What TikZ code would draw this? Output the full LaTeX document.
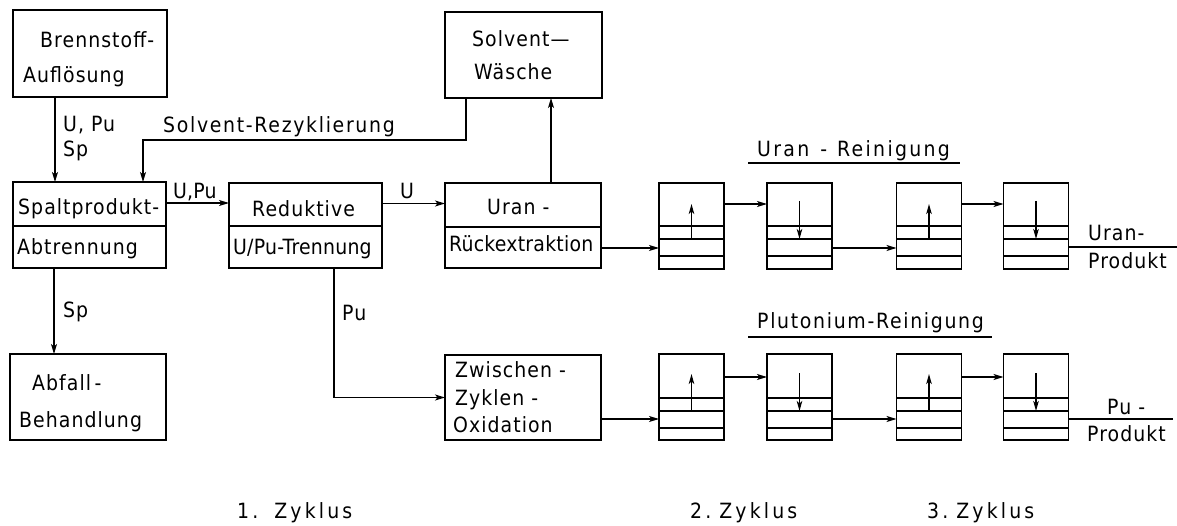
\documentclass[tikz,border=0pt]{standalone}
\usepackage{fontspec}
\setmainfont{DejaVu Sans}[LetterSpace=5, FakeStretch=0.9]
\newfontfamily\fnarrow{DejaVu Sans}[LetterSpace=1, FakeStretch=0.9]
\newfontfamily\fwide{DejaVu Sans}[LetterSpace=8, FakeStretch=0.9]
\newfontfamily\fwider{DejaVu Sans}[LetterSpace=11, FakeStretch=0.9]
\newfontfamily\fwidest{DejaVu Sans}[LetterSpace=15, FakeStretch=0.9]
\usetikzlibrary{arrows.meta,calc}
\begin{document}
\begin{tikzpicture}[x=1pt,y=-1pt,
  box/.style={draw, line width=1.3pt, inner sep=0pt, outer sep=0pt},
  stg/.style={draw, line width=1.3pt, inner sep=0pt, outer sep=0pt, minimum width=65pt, minimum height=86pt},
  arr/.style={line width=1.2pt, -{Stealth[length=10pt,width=6pt,inset=2.5pt]}},
  iarr/.style={line width=1.2pt, -{Stealth[length=10pt,width=5.5pt,inset=2.5pt]}},
  ln/.style={line width=1.2pt},
  txt/.style={anchor=base west, inner sep=0pt, font=\fontsize{21}{25}\selectfont},
  ntxt/.style={txt, font=\fnarrow\fontsize{21}{25}\selectfont},
  wtxt/.style={txt, font=\fwide\fontsize{21}{25}\selectfont},
  wwtxt/.style={txt, font=\fwider\fontsize{21}{25}\selectfont},
  ztxt/.style={txt, font=\fwidest\fontsize{21}{25}\selectfont}]
\useasboundingbox (0,0) rectangle (1177,526);
\fill[white] (0,0) rectangle (1177,526);

% main boxes
\node[box, minimum width=154pt, minimum height=87pt] (brenn) at (90,53.5) {};
\node[box, minimum width=157pt, minimum height=86pt] (solv) at (523.5,55) {};
\node[box, minimum width=153pt, minimum height=86pt] (spalt) at (89.5,225) {};
\node[box, minimum width=153pt, minimum height=85pt] (redu) at (305.5,225.5) {};
\node[box, minimum width=156pt, minimum height=85pt] (uran) at (523,225.5) {};
\node[box, minimum width=156pt, minimum height=86pt] (abfall) at (88,397) {};
\node[box, minimum width=156pt, minimum height=85pt] (zw) at (523,397.5) {};

% dividers
\draw[ln] (spalt.west |- 0,226) -- (spalt.east |- 0,226);
\draw[ln] (redu.west |- 0,226) -- (redu.east |- 0,226);
\draw[ln] (uran.west |- 0,227) -- (uran.east |- 0,227);

% stage boxes
\foreach \n/\x in {1/691.5,2/799.5,3/929,4/1036}{
  \node[stg] (u\n) at (\x,226) {};
  \node[stg] (p\n) at (\x,397) {};
}
\foreach \n in {1,2,3,4}{
  \foreach \o in {43,56,73}{
    \draw[ln] ([yshift=-\o pt]u\n.north west) -- ([yshift=-\o pt]u\n.north east);
  }
  \foreach \o in {44,57,74}{
    \draw[ln] ([yshift=-\o pt]p\n.north west) -- ([yshift=-\o pt]p\n.north east);
  }
}
% inner arrows
\foreach \n in {1,3}{
  \draw[iarr] ([yshift=-56pt]u\n.north) -- ([yshift=-21pt]u\n.north);
  \draw[iarr] ([yshift=-57pt]p\n.north) -- ([yshift=-20pt]p\n.north);
}
\foreach \n in {2,4}{
  \draw[iarr] ([yshift=-18pt]u\n.north) -- ([yshift=-56pt]u\n.north);
  \draw[iarr] ([yshift=-19pt]p\n.north) -- ([yshift=-57pt]p\n.north);
}

% main connectors
\draw[arr] ([xshift=-35pt]brenn.south) -- ([xshift=-35pt]brenn.south |- spalt.north);
\draw[arr] ([xshift=-35.5pt]spalt.south) -- ([xshift=-35.5pt]spalt.south |- abfall.north);
\draw[arr] ([yshift=22pt]spalt.east) -- ([yshift=22pt]spalt.east -| redu.west);
\draw[arr] ([yshift=22pt]redu.east) -- ([yshift=22pt]redu.east -| uran.west);
\draw[arr] ([xshift=28pt]uran.north) -- ([xshift=28pt]uran.north |- solv.south);
\coordinate (rz) at (143,140);
\draw[arr] ([xshift=-57.5pt]solv.south) |- (rz) -- (rz |- spalt.north);
\draw[arr] ([xshift=28.5pt]redu.south) |- (zw.west);

% stage connectors upper
\draw[arr] ([yshift=-22.5pt]uran.east) -- ([yshift=-22.5pt]uran.east -| u1.west);
\draw[arr] ([yshift=-21pt]u1.north east) -- ([yshift=-21pt]u2.north west);
\draw[arr] ([yshift=-65pt]u2.north east) -- ([yshift=-65pt]u3.north west);
\draw[arr] ([yshift=-21pt]u3.north east) -- ([yshift=-21pt]u4.north west);
\coordinate (uout) at (1177,247);
\draw[ln] (uout -| u4.east) -- (uout);
% stage connectors lower
\draw[arr] ([yshift=-21.5pt]zw.east) -- ([yshift=-21.5pt]zw.east -| p1.west);
\draw[arr] ([yshift=-23pt]p1.north east) -- ([yshift=-23pt]p2.north west);
\draw[arr] ([yshift=-65pt]p2.north east) -- ([yshift=-65pt]p3.north west);
\draw[arr] ([yshift=-23pt]p3.north east) -- ([yshift=-23pt]p4.north west);
\coordinate (pout) at (1173,419);
\draw[ln] (pout -| p4.east) -- (pout);

% texts
\node[txt] (t1) at (40,48) {Brennstoff-};
\node[txt] (t2) at (23,83) {Auflösung};
\node[txt] (t3) at (18,215) {Spaltprodukt-};
\node[txt] (t4) at (17,255) {Abtrennung};
\node[txt] (t5) at (252,217) {Reduktive};
\node[ntxt] (t6) at (233,255) {U/Pu-Trennung};
\node[txt] (t7) at (63,132) {U, Pu};
\node[txt] (t8) at (63,157) {Sp};
\node[wtxt] (t9) at (163,133) {Solvent-Rezyklierung};
\node[ntxt] (t10) at (173,199) {U,Pu};
\node[txt] (t11) at (400,199) {U};
\node[txt] (t12) at (472,47) {Solvent—};
\node[txt] (t13) at (474,80) {Wäsche};
\node[txt] (t14) at (487,215) {Uran -};
\node[ntxt] (t15) at (449,252) {Rückextraktion};
\node[txt] (t16) at (63,317) {Sp};
\node[txt] (t17) at (32,390) {Abfall\,-};
\node[txt] (t18) at (19,427) {Behandlung};
\node[txt] (t19) at (342,320) {Pu};
\node[txt] (t20) at (455,377) {Zwischen -};
\node[txt] (t21) at (455,405) {Zyklen -};
\node[txt] (t22) at (453,432) {Oxidation};
\node[txt] (t23) at (1088,241) {Uran-};
\node[txt] (t24) at (1088,269) {Produkt};
\node[txt] (t25) at (1107,414) {Pu -};
\node[txt] (t26) at (1087,441) {Produkt};
\node[wwtxt] (t27) at (757,157) {Uran\hspace{11pt}-\hspace{10pt}Reinigung};
\draw[ln] (748,163) -- (960,163);
\node[wtxt] (t28) at (757,328) {Plutonium-Reinigung};
\draw[ln] (748,337) -- (992,337);
\node[ztxt] (t29) at (237,518) {1.\hspace{16pt}Zyklus};
\node[ztxt] (t30) at (690,518) {2.\hspace{8pt}Zyklus};
\node[ztxt] (t31) at (927,518) {3.\hspace{8pt}Zyklus};
\end{tikzpicture}
\end{document}
